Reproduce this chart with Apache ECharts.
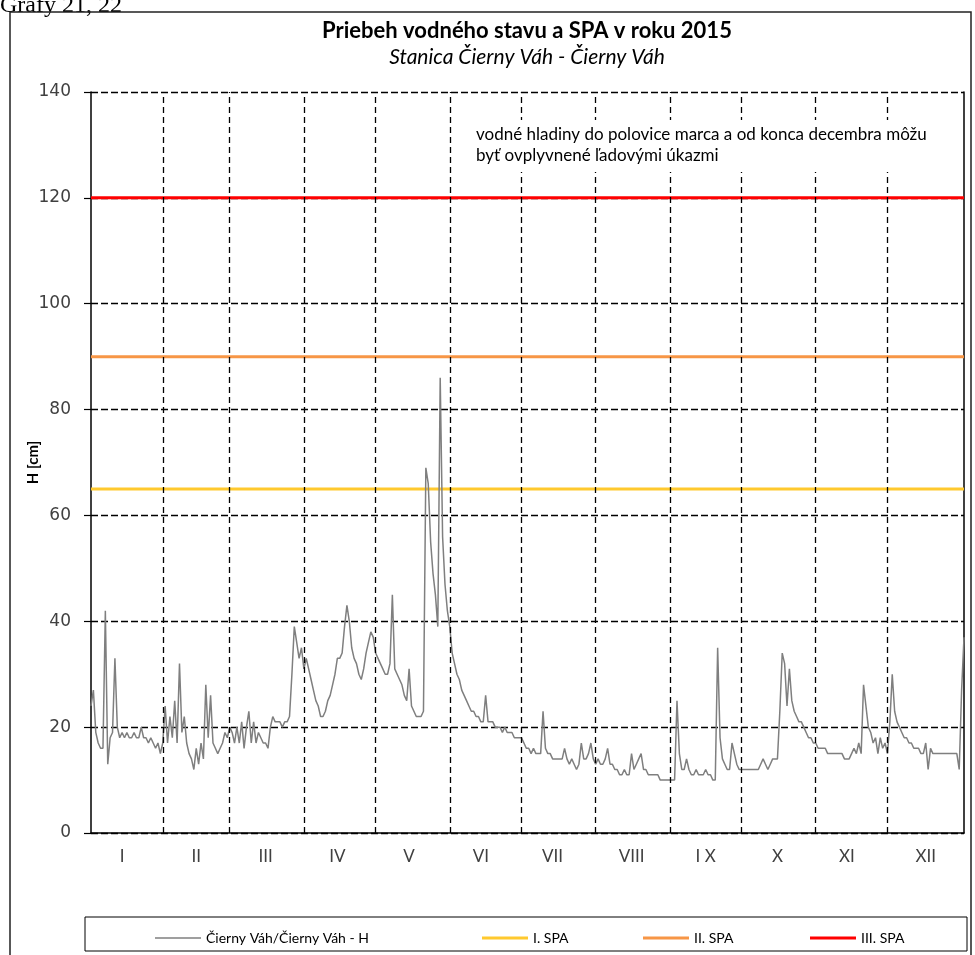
<!DOCTYPE html>
<html>
<head>
<meta charset="utf-8">
<script src="https://cdn.jsdelivr.net/npm/echarts@6/dist/echarts.min.js"></script>
<style>
  html, body { margin: 0; padding: 0; background: #fff; }
  #chart { width: 975px; height: 955px; }
</style>
</head>
<body>
<div id="chart"></div>
<script>
// denné vodné stavy 2015 [cm], odčítané z grafu
const janLevels = [24,27,19,17,16,16,42,13,18,19, 33,20,18,19,18,19,18,18,19,18, 18,20,18,18,17,18,17,16,17,15, 17];
const febLevels = [24,17,22,18,25,17,32,19,22,17, 15,14,12,16,13,17,14,28,18,26, 17,16,15,16,17,19,18,20];
const marLevels = [19,17,20,17,21,16,20,23,17,21, 17,19,18,17,17,16,20,22,21,21, 21,20,21,21,22,30,39,36,33,35, 31];
const aprLevels = [33,31,29,27,25,24,22,22,23,25, 26,28,30,33,33,34,39,43,40,35, 33,32,30,29,31,34,36,38,37,34];
const mayLevels = [33,32,31,30,30,32,45,31,30,29, 28,26,25,31,24,23,22,22,22,23, 69,66,55,49,45,39,86,56,47,42, 39];
const junLevels = [34,32,30,29,27,26,25,24,23,23, 22,22,21,21,26,21,21,21,20,20, 20,19,20,19,19,19,18,18,18,18];
const julLevels = [17,16,16,15,16,15,15,15,23,16, 15,15,14,14,14,14,14,16,14,13, 14,13,12,13,17,14,14,15,17,14, 13];
const augLevels = [14,13,13,14,16,13,13,12,12,11, 11,12,11,11,15,12,13,14,15,12, 12,11,11,11,11,11,10,10,10,10, 10];
const sepLevels = [10,10,25,15,12,12,14,12,11,11, 12,11,11,11,12,11,11,10,10,35, 18,14,13,12,12,17,15,13,12,12];
const octLevels = [12,12,12,12,12,12,12,13,14,13, 12,13,14,14,14,23,34,32,24,31, 25,23,22,21,21,20,19,18,18,17, 17];
const novLevels = [16,16,16,16,15,15,15,15,15,15, 15,14,14,14,15,16,15,17,15,28, 24,20,19,17,18,15,18,16,17,15];
const decLevels = [21,30,23,21,20,19,18,18,17,17, 16,16,16,15,15,17,12,16,15,15, 15,15,15,15,15,15,15,15,15,12, 27,37];

const levels = [].concat(janLevels, febLevels, marLevels, aprLevels, mayLevels, junLevels,
  julLevels, augLevels, sepLevels, octLevels, novLevels, decLevels);

// stupne povodňovej aktivity [cm]
const spaNames = ['I. SPA', 'II. SPA', 'III. SPA'];
const spaLevels = [65, 90, 120];
const spaColors = ['#FFC92E', '#F79646', '#FF0000'];

const months = ['I', 'II', 'III', 'IV', 'V', 'VI', 'VII', 'VIII', 'I X', 'X', 'XI', 'XII'];
const monthBounds = [31, 59, 90, 120, 151, 181, 212, 243, 273, 304, 334];
const monthLabelAt = [14, 45, 74, 104, 134, 164, 194, 227, 258, 288, 317, 350];

const seriesName = 'Čierny Váh/Čierny Váh - H';
const xMin = 1, xMax = 366;

const chart = echarts.init(document.getElementById('chart'));

const txt = '#404040';
const font = 'Lato, "Liberation Sans", sans-serif';

const spaSeries = spaNames.map((name, k) => ({
  name: name,
  type: 'line',
  symbol: 'none',
  silent: true,
  data: [[xMin, spaLevels[k]], [xMax, spaLevels[k]]],
  lineStyle: { color: spaColors[k], width: 3 },
  itemStyle: { color: spaColors[k] },
  z: 3
}));

// legenda - každá položka zvlášť, aby sedeli pozície
const legendLeft = [150, 477, 638, 805];
const legendNames = [seriesName].concat(spaNames);
const legendLine = [1.5, 3, 3, 3];

const option = {
  animation: false,
  backgroundColor: '#fff',
  grid: { left: 91, right: 11, top: 92, bottom: 122 },
  xAxis: {
    type: 'value',
    min: xMin,
    max: xMax,
    axisLine: { show: true, lineStyle: { color: '#000', width: 1.5 } },
    axisTick: { show: false },
    splitLine: { show: false },
    axisLabel: {
      customValues: monthLabelAt,
      formatter: v => months[monthLabelAt.indexOf(v)] || '',
      color: txt,
      fontFamily: font,
      fontSize: 17,
      margin: 15
    }
  },
  yAxis: [{
    type: 'value',
    min: 0,
    max: 140,
    interval: 20,
    name: 'H [cm]',
    nameLocation: 'middle',
    nameGap: 50,
    nameMoveOverlap: false,
    nameTextStyle: { fontWeight: 'bold', fontSize: 15, color: '#000', fontFamily: font },
    axisLine: { show: true, lineStyle: { color: '#000', width: 1.5 } },
    axisTick: { show: true, length: 7, lineStyle: { color: '#000', width: 1.2 } },
    axisLabel: { color: txt, fontSize: 17, fontFamily: '"DejaVu Sans", Verdana, sans-serif', margin: 20 },
    splitLine: { show: true, lineStyle: { color: '#000', type: [7, 3], width: 1.3 } }
  }, {
    type: 'value',
    min: 0,
    max: 140,
    position: 'right',
    axisLine: { show: true, lineStyle: { color: '#000', width: 1.5 } },
    axisTick: { show: false },
    axisLabel: { show: false },
    splitLine: { show: false }
  }],
  legend: legendNames.map((n, k) => ({
    data: [{ name: n, icon: 'rect' }],
    left: legendLeft[k],
    top: 926,
    itemWidth: 46,
    itemHeight: legendLine[k],
    selectedMode: false,
    textStyle: { fontFamily: font, fontSize: 14, color: '#000' }
  })),
  graphic: [
    { type: 'text', left: 0, top: -6, style: { text: 'Grafy 21, 22', font: '24px "Liberation Serif", serif', fill: '#000' } },
    { type: 'rect', shape: { x: 10, y: 12, width: 961, height: 960 }, style: { fill: 'none', stroke: '#222', lineWidth: 1.5 }, silent: true },
    { type: 'rect', shape: { x: 85, y: 917, width: 882, height: 34 }, style: { fill: 'none', stroke: '#000', lineWidth: 1 }, silent: true },
    { type: 'text', x: 527, y: 31, style: { text: 'Priebeh vodného stavu a SPA v roku 2015', font: 'bold 22px ' + font, fill: '#000', align: 'center', verticalAlign: 'middle' } },
    { type: 'text', x: 527, y: 57, style: { text: 'Stanica Čierny Váh - Čierny Váh', font: 'italic 21px ' + font, fill: '#000', align: 'center', verticalAlign: 'middle' } },
    { type: 'rect', shape: { x: 470, y: 120, width: 472, height: 52 }, style: { fill: '#fff' }, z: 10, silent: true },
    { type: 'text', x: 476, y: 135, z: 11, style: { text: 'vodné hladiny do polovice marca a od konca decembra môžu', font: '17px ' + font, fill: '#000', verticalAlign: 'middle' } },
    { type: 'text', x: 476, y: 156, z: 11, style: { text: 'byť ovplyvnené ľadovými úkazmi', font: '17px ' + font, fill: '#000', verticalAlign: 'middle' } }
  ],
  series: [{
    name: seriesName,
    type: 'line',
    symbol: 'none',
    data: levels.map((v, i) => [i + 1, v]),
    lineStyle: { color: '#7F7F7F', width: 1.5 },
    itemStyle: { color: '#7F7F7F' },
    z: 4,
    markLine: {
      silent: true,
      symbol: 'none',
      label: { show: false },
      lineStyle: { color: '#000', type: [6, 4], width: 1.3 },
      data: monthBounds.map(b => ({ xAxis: b }))
    }
  }].concat(spaSeries)
};

chart.setOption(option);
</script>
</body>
</html>
